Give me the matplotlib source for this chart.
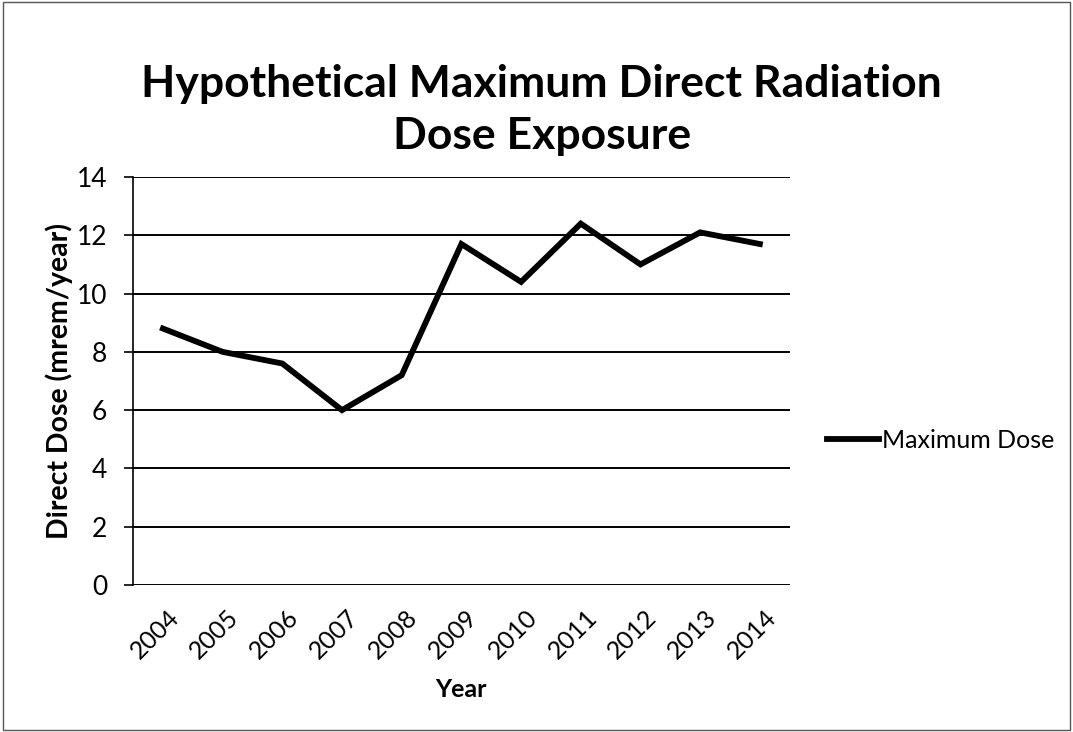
import matplotlib.pyplot as plt
import matplotlib.transforms as mtransforms

plt.rcParams['font.family'] = ['Lato', 'DejaVu Sans']

# Data
years = ['2004', '2005', '2006', '2007', '2008', '2009',
         '2010', '2011', '2012', '2013', '2014']
max_dose = [8.8, 8.0, 7.6, 6.0, 7.2, 11.7, 10.4, 12.4, 11.0, 12.1, 11.7]

fig = plt.figure(figsize=(10.73, 7.32), dpi=100)
ax = fig.add_axes([0.124, 0.2008, 0.612, 0.5574])

x = list(range(len(years)))
ax.plot(x, max_dose, color='black', linewidth=4.2, solid_joinstyle='miter',
        label='Maximum Dose')

ax.set_xlim(-0.5, len(years) - 0.5)
ax.set_ylim(0, 14)
ax.set_yticks(range(0, 15, 2))
ax.set_xticks(x)
ax.set_xticklabels(years, rotation=45, ha='right', va='top', rotation_mode='anchor')
ax.tick_params(axis='x', labelsize=18, length=0, pad=15)
ax.tick_params(axis='y', labelsize=19, length=6.5, width=1.2, pad=12)
ax.yaxis.grid(True, color='black', linewidth=1.4)
ax.set_axisbelow(True)

# shift the rotated year labels a little to the right, like Excel does
shift = mtransforms.ScaledTranslation(3 / 72, 0, fig.dpi_scale_trans)
for lbl in ax.get_xticklabels():
    lbl.set_transform(lbl.get_transform() + shift)

for s in ['top', 'right', 'bottom']:
    ax.spines[s].set_visible(False)
ax.spines['left'].set_linewidth(1.2)

ax.set_xlabel('Year', fontsize=18, fontweight='bold', labelpad=11)
ax.set_ylabel('Direct Dose (mrem/year)', fontsize=20.5, fontweight='bold', labelpad=3)

fig.text(0.505, 0.850, 'Hypothetical Maximum Direct Radiation\nDose Exposure',
         ha='center', va='center', fontsize=32, fontweight='bold', linespacing=1.38)

ax.legend(loc='center left', bbox_to_anchor=(1.056, 0.355), frameon=False,
          fontsize=18, handlelength=2.1, handletextpad=0.1,
          borderaxespad=0, borderpad=0)

# thin frame around the whole chart
fig.patches.append(plt.Rectangle((0.003, 0.003), 0.994, 0.994, transform=fig.transFigure,
                                 fill=False, edgecolor='#555555', linewidth=1))

fig.savefig('out.png', dpi=100)
